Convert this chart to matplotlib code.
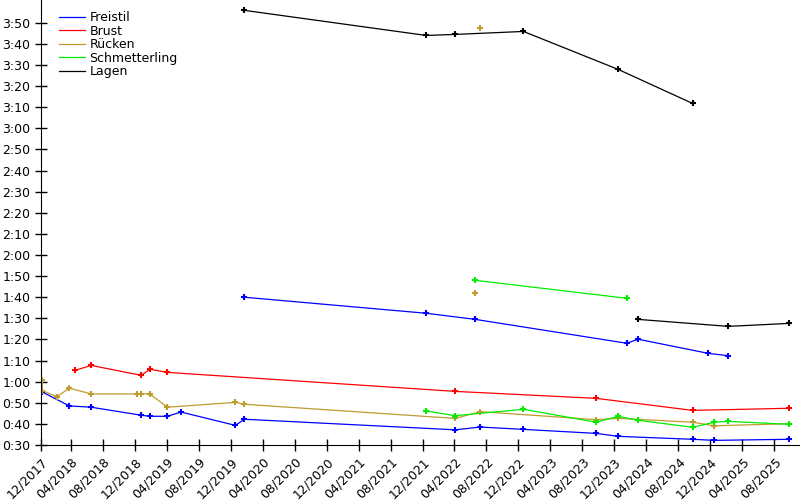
import matplotlib
matplotlib.use("Agg")
import matplotlib.pyplot as plt
import matplotlib.dates as mdates
import pandas as pd
from matplotlib.ticker import FuncFormatter

# times in seconds
frei_50_dates = ["2017-12-14", "2018-03-27", "2018-06-18", "2018-12-26", "2019-01-27",
                 "2019-04-04", "2019-05-26", "2019-12-19", "2020-01-22", "2022-04-04",
                 "2022-07-09", "2022-12-20", "2023-09-23", "2023-12-16", "2024-09-24",
                 "2024-12-16", "2025-09-27"]
frei_50_times = [55.1, 48.5, 47.9, 44.1, 43.6, 43.6, 45.6, 39.3, 42.2, 37.2,
                 38.5, 37.4, 35.5, 34.1, 32.7, 32.2, 32.7]

frei_100_dates = ["2020-01-22", "2021-12-15", "2022-06-20", "2024-01-17", "2024-03-01",
                  "2024-11-23", "2025-02-07"]
frei_100_times = [100.0, 92.4, 89.5, 78.2, 80.1, 73.4, 72.3]

brust_50_dates = ["2018-04-18", "2018-06-18", "2018-12-26", "2019-01-27", "2019-04-04",
                  "2022-04-04", "2023-09-23", "2024-09-24", "2025-09-27"]
brust_50_times = [65.4, 67.7, 63.0, 65.9, 64.4, 55.4, 52.1, 46.4, 47.4]

ruecken_50_dates = ["2017-12-14", "2017-12-14", "2018-02-07", "2018-03-27", "2018-06-18",
                    "2018-12-11", "2018-12-26", "2019-01-27", "2019-04-04", "2019-12-19",
                    "2020-01-22", "2022-04-04", "2022-07-09", "2023-09-23", "2023-12-16",
                    "2024-09-24", "2024-12-16", "2025-09-27"]
ruecken_50_times = [60.8, 55.8, 52.9, 56.9, 54.2, 54.2, 54.2, 54.2, 47.9, 50.2,
                    49.3, 42.6, 45.8, 42.0, 42.6, 40.8, 39.1, 40.1]
ruecken_100_dates = ["2022-06-20"]
ruecken_100_times = [101.8]
ruecken_200_dates = ["2022-07-09"]
ruecken_200_times = [227.3]

schm_50_dates = ["2021-12-15", "2022-04-04", "2022-12-20", "2023-09-23", "2023-12-16",
                 "2024-03-01", "2024-09-24", "2024-12-16", "2025-02-07", "2025-09-27"]
schm_50_times = [46.1, 43.9, 46.9, 40.8, 43.6, 41.7, 38.4, 40.8, 41.2, 39.8]
schm_100_dates = ["2022-06-20", "2024-01-17"]
schm_100_times = [108.0, 99.5]

lagen_200_dates = ["2020-01-22", "2021-12-15", "2022-04-04", "2022-12-20", "2023-12-16",
                   "2024-09-24"]
lagen_200_times = [235.9, 224.0, 224.5, 225.9, 207.9, 191.8]
lagen_100_dates = ["2024-03-01", "2025-02-07", "2025-09-27"]
lagen_100_times = [89.5, 86.2, 87.6]

colors = {"Freistil": "#0000ff", "Brust": "#ff0000", "Rücken": "#bf9b30",
          "Schmetterling": "#00ee00", "Lagen": "#000000"}

series = [
    ("Freistil", frei_50_dates, frei_50_times),
    ("Freistil", frei_100_dates, frei_100_times),
    ("Brust", brust_50_dates, brust_50_times),
    ("Rücken", ruecken_50_dates, ruecken_50_times),
    ("Rücken", ruecken_100_dates, ruecken_100_times),
    ("Rücken", ruecken_200_dates, ruecken_200_times),
    ("Schmetterling", schm_50_dates, schm_50_times),
    ("Schmetterling", schm_100_dates, schm_100_times),
    ("Lagen", lagen_200_dates, lagen_200_times),
    ("Lagen", lagen_100_dates, lagen_100_times),
]

plt.rcParams["font.family"] = "DejaVu Sans"
plt.rcParams["font.size"] = 9

fig = plt.figure(figsize=(8, 5), dpi=100)
ax = fig.add_axes([0.051, 0.11, 0.949, 0.89])

seen = set()
for name, dates, times in series:
    label = name if name not in seen else "_nolegend_"
    seen.add(name)
    ax.plot(pd.to_datetime(dates), times, color=colors[name], lw=0.9,
            marker="+", ms=5, mew=1.5, label=label)

xmin = pd.Timestamp("2017-12-08")
xmax = pd.Timestamp("2025-11-07")
ax.set_xlim(xmin, xmax)
ax.set_ylim(30, 240.8)

xticks = [xmin] + list(pd.date_range("2018-04-01", "2025-08-01", freq="4MS"))
ax.set_xticks(xticks)
ax.xaxis.set_major_formatter(mdates.DateFormatter("%m/%Y"))
plt.setp(ax.get_xticklabels(), rotation=45, ha="right", rotation_mode="anchor")

ax.set_yticks(range(30, 231, 10))
ax.yaxis.set_major_formatter(FuncFormatter(lambda v, p: f"{int(v) // 60}:{int(v) % 60:02d}"))

ax.spines["top"].set_visible(False)
ax.spines["right"].set_visible(False)
ax.tick_params(direction="inout", length=8, width=1, colors="black", labelsize=9)

leg = ax.legend(loc="upper left", bbox_to_anchor=(0.017, 0.986), frameon=False,
                handlelength=2.1, handletextpad=0.35, labelspacing=0.04,
                borderaxespad=0, fontsize=9)
for line in leg.get_lines():
    line.set_marker("")

fig.savefig("out.png", dpi=100)
